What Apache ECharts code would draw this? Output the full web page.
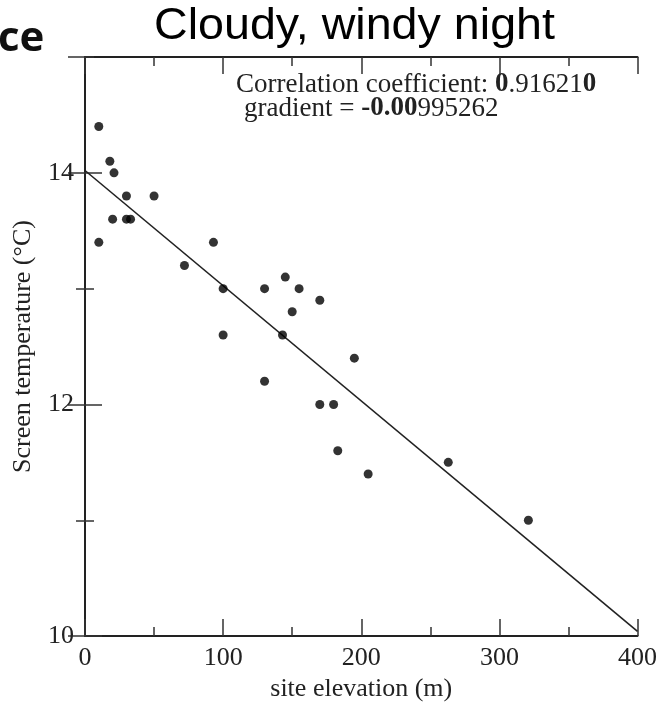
<!DOCTYPE html>
<html><head><meta charset="utf-8">
<script src="https://cdn.jsdelivr.net/npm/echarts@6/dist/echarts.min.js"></script>
<style>html,body{margin:0;padding:0;background:#fff}#c{width:660px;height:707px}</style>
</head><body><div id="c"></div>
<script>
const elevation   = [10, 10, 18, 21, 20, 30, 30, 33, 50, 72, 93, 100, 100, 130, 130, 145, 143, 150, 155, 170, 170, 180, 183, 195, 205, 263, 321];
const temperature = [14.4, 13.4, 14.1, 14.0, 13.6, 13.8, 13.6, 13.6, 13.8, 13.2, 13.4, 13.0, 12.6, 13.0, 12.2, 13.1, 12.6, 12.8, 13.0, 12.9, 12.0, 12.0, 11.6, 12.4, 11.4, 11.5, 11.0];
const fitElevation   = [0, 400];
const fitTemperature = [14.02, 10.04];
const titleText = 'Cloudy, windy night';
const corrText = 'Correlation coefficient: {b|0}.91621{b|0}';
const gradText = 'gradient = {b|-0.00}995262';

const SERIF = 'Liberation Serif';
const INK = '#222';
const tickStyle = {color: '#333', width: 1.5};

function xAxis(pos, interval, len, main) {
  const a = {
    type: 'value', position: pos, min: 0, max: 400, interval: interval,
    axisLine: {show: main, lineStyle: {color: INK, width: 2}},
    axisTick: {show: true, inside: true, length: len, lineStyle: tickStyle},
    axisLabel: {show: false},
    splitLine: {show: false}
  };
  if (main && pos === 'bottom') {
    a.axisLabel = {show: true, margin: 9, fontFamily: SERIF, fontSize: 26, color: INK};
    a.name = 'site elevation (m)';
    a.nameLocation = 'middle';
    a.nameGap = 37;
    a.nameTextStyle = {fontFamily: SERIF, fontSize: 26, color: INK};
  }
  return a;
}
function yAxis(pos, interval, len, main) {
  const a = {
    type: 'value', position: pos, min: 10, max: 15, interval: interval,
    axisLine: {show: main, lineStyle: {color: INK, width: 2}},
    axisTick: {show: true, inside: true, length: len, lineStyle: tickStyle},
    axisLabel: {show: false},
    splitLine: {show: false}
  };
  if (main && pos === 'left') {
    a.axisLabel = {show: true, margin: 11, fontFamily: SERIF, fontSize: 26, color: INK, showMaxLabel: false};
    a.name = 'Screen temperature (\u00B0C)';
    a.nameLocation = 'middle';
    a.nameGap = 49;
    a.nameTextStyle = {fontFamily: SERIF, fontSize: 26, color: INK};
  }
  return a;
}

const chart = echarts.init(document.getElementById('c'), null, {renderer: 'canvas'});
chart.setOption({
  backgroundColor: '#fff',
  animation: false,
  grid: {left: 85, right: 21, top: 57, bottom: 65, containLabel: false},
  xAxis: [xAxis('bottom', 100, 17, true), xAxis('bottom', 50, 9, false), xAxis('top', 100, 17, true), xAxis('top', 50, 9, false)],
  yAxis: [yAxis('left', 2, 17, true), yAxis('left', 1, 9, false), yAxis('right', 2, 17, true), yAxis('right', 1, 9, false)],
  graphic: [
    {type: 'text', x: 154, y: 5, scaleX: 1.06, style: {text: titleText, font: '44px "Liberation Sans", Arial, sans-serif', fill: '#000', verticalAlign: 'top'}},
    {type: 'text', x: -2, y: 18, style: {text: 'ce', font: 'bold 42px "Open Sans", sans-serif', fill: '#111', verticalAlign: 'top'}},
    {type: 'text', left: 236, top: 71, style: {text: corrText, font: '27px "Liberation Serif", serif', fill: INK,
      rich: {b: {fontFamily: SERIF, fontSize: 27, fontWeight: 'bold', fill: INK}}}},
    {type: 'text', left: 244, top: 95, style: {text: gradText, font: '27px "Liberation Serif", serif', fill: INK,
      rich: {b: {fontFamily: SERIF, fontSize: 27, fontWeight: 'bold', fill: INK}}}}
  ],
  series: [
    {type: 'line', xAxisIndex: 0, yAxisIndex: 0, data: fitElevation.map((x, i) => [x, fitTemperature[i]]),
      showSymbol: false, symbol: 'none', lineStyle: {color: INK, width: 1.6}, silent: true, z: 2},
    {type: 'scatter', xAxisIndex: 0, yAxisIndex: 0, data: elevation.map((x, i) => [x, temperature[i]]),
      symbol: 'circle', symbolSize: 9, itemStyle: {color: '#000'}, z: 3}
  ]
});
</script></body></html>
